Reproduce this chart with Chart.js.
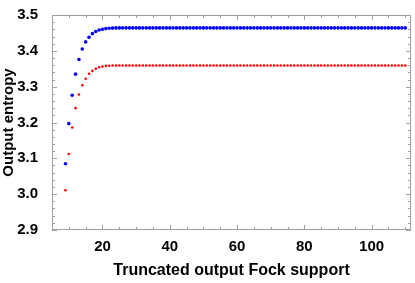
<!DOCTYPE html>
<html>
<head>
<meta charset="utf-8">
<script src="https://cdn.jsdelivr.net/npm/chart.js@4/dist/chart.umd.min.js"></script>
<style>
  body { margin: 0; background: #fff; }
  #wrap { width: 415px; height: 283px; }
</style>
</head>
<body>
<div id="wrap"><canvas id="chart1" width="415" height="283"></canvas></div>
<script>
// truncated output Fock support (x) and the two entropy curves
const support = [9, 10, 11, 12, 13, 14, 15, 16, 17, 18, 19, 20, 21, 22, 23, 24, 25, 26, 27, 28, 29,
  30, 31, 32, 33, 34, 35, 36, 37, 38, 39, 40, 41, 42, 43, 44, 45, 46, 47, 48, 49, 50, 51, 52, 53, 54,
  55, 56, 57, 58, 59, 60, 61, 62, 63, 64, 65, 66, 67, 68, 69, 70, 71, 72, 73, 74, 75, 76, 77, 78, 79,
  80, 81, 82, 83, 84, 85, 86, 87, 88, 89, 90, 91, 92, 93, 94, 95, 96, 97, 98, 99, 100, 101, 102, 103,
  104, 105, 106, 107, 108, 109, 110];

const blue_entropy = [3.085, 3.197, 3.276, 3.335, 3.376, 3.405, 3.425, 3.438, 3.448, 3.454, 3.458,
  3.460, 3.462, 3.463, 3.4635, 3.464, 3.464, 3.464, 3.464, 3.464, 3.464, 3.464, 3.464, 3.464, 3.464,
  3.464, 3.464, 3.464, 3.464, 3.464, 3.464, 3.464, 3.464, 3.464, 3.464, 3.464, 3.464, 3.464, 3.464,
  3.464, 3.464, 3.464, 3.464, 3.464, 3.464, 3.464, 3.464, 3.464, 3.464, 3.464, 3.464, 3.464, 3.464,
  3.464, 3.464, 3.464, 3.464, 3.464, 3.464, 3.464, 3.464, 3.464, 3.464, 3.464, 3.464, 3.464, 3.464,
  3.464, 3.464, 3.464, 3.464, 3.464, 3.464, 3.464, 3.464, 3.464, 3.464, 3.464, 3.464, 3.464, 3.464,
  3.464, 3.464, 3.464, 3.464, 3.464, 3.464, 3.464, 3.464, 3.464, 3.464, 3.464, 3.464, 3.464, 3.464,
  3.464, 3.464, 3.464, 3.464, 3.464, 3.464, 3.464];

const red_entropy = [3.011, 3.112, 3.186, 3.240, 3.278, 3.304, 3.322, 3.336, 3.344, 3.350, 3.354,
  3.356, 3.358, 3.3585, 3.359, 3.359, 3.359, 3.359, 3.359, 3.359, 3.359, 3.359, 3.359, 3.359, 3.359,
  3.359, 3.359, 3.359, 3.359, 3.359, 3.359, 3.359, 3.359, 3.359, 3.359, 3.359, 3.359, 3.359, 3.359,
  3.359, 3.359, 3.359, 3.359, 3.359, 3.359, 3.359, 3.359, 3.359, 3.359, 3.359, 3.359, 3.359, 3.359,
  3.359, 3.359, 3.359, 3.359, 3.359, 3.359, 3.359, 3.359, 3.359, 3.359, 3.359, 3.359, 3.359, 3.359,
  3.359, 3.359, 3.359, 3.359, 3.359, 3.359, 3.359, 3.359, 3.359, 3.359, 3.359, 3.359, 3.359, 3.359,
  3.359, 3.359, 3.359, 3.359, 3.359, 3.359, 3.359, 3.359, 3.359, 3.359, 3.359, 3.359, 3.359, 3.359,
  3.359, 3.359, 3.359, 3.359, 3.359, 3.359, 3.359];

const x_ticks = [20, 40, 60, 80, 100];
const y_ticks = [2.9, 3.0, 3.1, 3.2, 3.3, 3.4, 3.5];

function to_points(ys){
    return support.map((x, i) => ({x: x, y: ys[i]}));
}

const bold15 = {family: "'Liberation Sans', Arial, sans-serif", size: 15, weight: 'bold'};
const bold15_title = {family: "'Liberation Sans', Arial, sans-serif", size: 15, weight: 'bold', lineHeight: 1};
const bold16_title = {family: "'Liberation Sans', Arial, sans-serif", size: 16, weight: 'bold', lineHeight: 1};

// Mathematica style frame with inward ticks on all four sides
const frame_ticks = {
    id: 'frame_ticks',
    afterDatasetsDraw(chart) {
        const ctx = chart.ctx;
        const a = chart.chartArea;
        const xs = chart.scales.x, ys = chart.scales.y;
        ctx.save();
        ctx.strokeStyle = '#a0a0a0';
        ctx.lineWidth = 1;
        ctx.strokeRect(a.left + 0.5, a.top + 0.5, a.right - a.left - 1, a.bottom - a.top - 1);
        ctx.beginPath();
        for (let v = 5; v <= 110; v += 5) {
            const px = Math.round(xs.getPixelForValue(v)) + 0.5;
            const len = (v % 20 === 0) ? 5 : 3;
            ctx.moveTo(px, a.bottom); ctx.lineTo(px, a.bottom - len);
            ctx.moveTo(px, a.top); ctx.lineTo(px, a.top + len);
        }
        for (let k = 0; k <= 30; k++) {
            const v = 2.9 + k * 0.02;
            const py = Math.round(ys.getPixelForValue(v)) + 0.5;
            const len = (k % 5 === 0) ? 5 : 3;
            ctx.moveTo(a.left, py); ctx.lineTo(a.left + len, py);
            ctx.moveTo(a.right, py); ctx.lineTo(a.right - len, py);
        }
        ctx.stroke();
        ctx.restore();
    }
};

const chart1_cfg = {
    type: 'scatter',
    data: {
        datasets: [
            {
                label: 'blue',
                data: to_points(blue_entropy),
                backgroundColor: '#0000ff',
                borderWidth: 0,
                pointRadius: 1.8
            },
            {
                label: 'red',
                data: to_points(red_entropy),
                backgroundColor: '#ff0000',
                borderWidth: 0,
                pointRadius: 1.3
            }
        ]
    },
    options: {
        responsive: false,
        animation: false,
        layout: {
            padding: {top: 7, right: 3, left: 0, bottom: 0}
        },
        plugins: {
            legend: {display: false},
            tooltip: {enabled: false}
        },
        scales: {
            x: {
                type: 'linear',
                min: 5,
                max: 111.7,
                grid: {display: false},
                border: {display: false},
                afterBuildTicks: (s) => { s.ticks = x_ticks.map(v => ({value: v})); },
                afterFit: (s) => { s.height = 53; },
                ticks: {
                    font: bold15,
                    color: '#000',
                    padding: 0,
                    maxRotation: 0,
                    autoSkip: false
                },
                title: {
                    display: true,
                    text: 'Truncated output Fock support',
                    font: bold16_title,
                    color: '#000',
                    padding: {top: 0, bottom: 4}
                }
            },
            y: {
                min: 2.9,
                max: 3.5,
                grid: {display: false},
                border: {display: false},
                afterBuildTicks: (s) => { s.ticks = y_ticks.map(v => ({value: v})); },
                afterFit: (s) => { s.width = 52; },
                ticks: {
                    font: bold15,
                    color: '#000',
                    padding: 6,
                    callback: (v) => v.toFixed(1)
                },
                title: {
                    display: true,
                    text: 'Output entropy',
                    font: bold15_title,
                    color: '#000',
                    padding: {top: 1, bottom: 0}
                }
            }
        }
    },
    plugins: [frame_ticks]
};

const chart1_ctx = document.getElementById('chart1').getContext('2d');
let chart1 = new Chart(chart1_ctx, chart1_cfg);
</script>
</body>
</html>
